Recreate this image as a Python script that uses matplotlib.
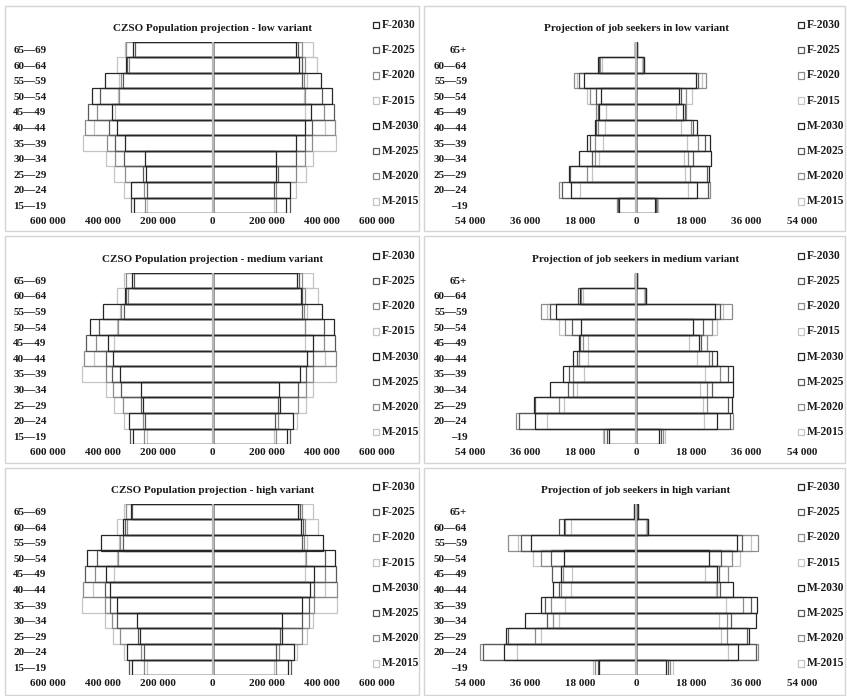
"""
Six population-pyramid panels: CZSO population projection (left column)
and projected job seekers (right column), low / medium / high variant.
Males drawn to the left, females to the right, four years overlaid as
unfilled outlines (Excel style, 100 % overlap, zero gap).
"""

import matplotlib
matplotlib.use("Agg")
import matplotlib.pyplot as plt
from matplotlib.patches import Rectangle
from matplotlib.ticker import FuncFormatter

plt.rcParams["font.family"] = ["Liberation Serif", "DejaVu Serif"]
plt.rcParams["font.weight"] = "bold"

# ---------------------------------------------------------------- data
YEARS = [2015, 2020, 2025, 2030]

POP_AGES = ["15—19", "20—24", "25—29", "30—34", "35—39", "40—44",
            "45—49", "50—54", "55—59", "60—64", "65—69"]
JOB_AGES = ["–19", "20—24", "25—29", "30—34", "35—39", "40—44",
            "45—49", "50—54", "55—59", "60—64", "65+"]

# population in thousands, rows = 2015, 2020, 2025, 2030 (bottom -> top ages)
POP_LOW_M = [
    [240, 322, 359, 387, 472, 432, 356, 344, 340, 350, 320],
    [246, 249, 320, 356, 384, 465, 423, 340, 332, 306, 314],
    [299, 240, 253, 322, 354, 377, 453, 409, 326, 311, 283],
    [285, 299, 244, 246, 320, 348, 368, 438, 392, 316, 289],
]
POP_LOW_F = [
    [226, 306, 342, 366, 449, 410, 339, 333, 345, 382, 366],
    [231, 233, 306, 337, 364, 445, 406, 337, 333, 337, 325],
    [282, 226, 238, 306, 337, 364, 443, 400, 327, 325, 312],
    [268, 284, 233, 233, 306, 337, 360, 437, 397, 317, 305],
]
POP_MED_M = [
    [240, 322, 359, 389, 475, 433, 359, 348, 338, 350, 322],
    [250, 255, 328, 362, 389, 468, 426, 343, 332, 307, 314],
    [301, 246, 259, 332, 365, 387, 460, 414, 323, 314, 287],
    [289, 306, 253, 259, 336, 362, 381, 448, 399, 320, 292],
]
POP_MED_F = [
    [226, 309, 342, 366, 449, 412, 337, 337, 343, 384, 367],
    [231, 238, 312, 342, 366, 449, 406, 339, 333, 339, 327],
    [284, 229, 238, 312, 342, 366, 447, 406, 327, 327, 315],
    [272, 293, 245, 244, 318, 345, 366, 443, 400, 321, 309],
]
POP_HIGH_M = [
    [240, 323, 362, 393, 476, 436, 359, 350, 342, 350, 322],
    [250, 259, 336, 368, 393, 472, 429, 344, 336, 311, 316],
    [304, 250, 273, 348, 375, 393, 466, 420, 326, 320, 293],
    [292, 311, 265, 275, 348, 375, 389, 456, 407, 326, 298],
]
POP_HIGH_F = [
    [226, 309, 345, 367, 453, 412, 339, 337, 343, 384, 367],
    [233, 242, 325, 351, 370, 453, 409, 342, 333, 339, 327],
    [288, 233, 248, 325, 351, 370, 449, 409, 327, 329, 318],
    [275, 296, 254, 254, 327, 354, 370, 447, 404, 323, 312],
]

# job seekers in thousands, rows = 2015, 2020, 2025, 2030
JOB_LOW_M = [
    [6.3, 18.1, 14.4, 11.9, 10.8, 10.0, 9.7, 16.0, 19.2, 11.1, 0.2],
    [6.1, 25.2, 16.0, 13.3, 13.3, 12.2, 13.0, 14.9, 20.1, 11.7, 0.2],
    [5.7, 24.1, 21.4, 14.4, 14.9, 13.0, 12.5, 13.1, 18.5, 11.9, 0.3],
    [5.4, 21.2, 21.9, 18.7, 16.0, 13.5, 11.9, 11.3, 16.8, 12.2, 0.3],
]
JOB_LOW_F = [
    [7.0, 16.9, 15.9, 15.7, 16.7, 14.8, 12.9, 18.2, 21.6, 2.0, 0.2],
    [6.7, 24.0, 17.5, 16.9, 20.3, 18.0, 16.3, 16.4, 22.9, 2.2, 0.2],
    [6.4, 23.4, 23.1, 18.6, 22.4, 18.6, 15.9, 14.8, 20.2, 2.5, 0.2],
    [6.2, 19.9, 23.8, 24.5, 24.0, 19.9, 15.4, 13.9, 19.4, 2.7, 0.3],
]
JOB_MED_M = [
    [10.8, 28.9, 23.5, 19.2, 16.8, 15.6, 15.6, 24.9, 28.8, 17.2, 0.3],
    [10.3, 38.9, 25.1, 20.5, 20.4, 18.5, 17.4, 23.2, 31.0, 17.8, 0.3],
    [9.5, 38.2, 32.7, 22.1, 21.7, 19.3, 18.2, 20.7, 28.0, 18.8, 0.4],
    [8.9, 32.7, 33.1, 28.1, 23.9, 20.4, 18.6, 17.8, 25.9, 18.2, 0.4],
]
JOB_MED_F = [
    [9.3, 22.0, 21.7, 20.8, 22.5, 20.0, 17.4, 26.2, 28.4, 2.7, 0.3],
    [8.8, 31.6, 23.0, 23.0, 27.3, 23.9, 23.0, 24.6, 31.1, 2.9, 0.3],
    [8.0, 30.6, 30.0, 24.6, 30.0, 24.6, 21.2, 21.9, 27.3, 3.1, 0.3],
    [7.5, 26.5, 31.1, 31.6, 31.6, 26.3, 20.6, 18.5, 25.7, 3.3, 0.4],
]
JOB_HIGH_M = [
    [14.0, 38.6, 30.8, 25.2, 23.0, 21.3, 20.7, 33.5, 38.3, 21.3, 0.4],
    [13.5, 50.8, 32.9, 27.0, 27.5, 24.5, 23.8, 30.8, 41.6, 23.0, 0.4],
    [12.5, 49.7, 41.8, 28.8, 29.5, 25.2, 27.3, 27.5, 37.3, 25.2, 0.5],
    [11.9, 42.9, 42.4, 36.0, 31.0, 27.0, 24.5, 23.4, 34.2, 23.4, 0.5],
]
JOB_HIGH_F = [
    [11.9, 29.9, 27.8, 27.0, 29.2, 25.9, 22.4, 33.7, 37.3, 3.4, 0.4],
    [11.0, 39.6, 29.5, 29.5, 34.9, 26.5, 29.9, 31.3, 39.6, 3.6, 0.4],
    [10.3, 38.9, 36.2, 30.8, 37.3, 27.3, 27.0, 27.8, 34.6, 3.8, 0.5],
    [9.7, 33.3, 36.9, 39.1, 39.4, 31.5, 26.5, 23.8, 32.9, 4.0, 0.5],
]

POP_TICKS = [-600000, -400000, -200000, 0, 200000, 400000, 600000]
JOB_TICKS = [-54000, -36000, -18000, 0, 18000, 36000, 54000]

TITLES = [
    ("CZSO Population projection - low variant",
     "Projection of job seekers in low variant"),
    ("CZSO Population projection - medium variant",
     "Projection of job seekers in medium variant"),
    ("CZSO Population projection - high variant",
     "Projection of job seekers in high variant"),
]

# ---------------------------------------------------------------- style
YEAR_COLORS = {2015: "#c4c4c4", 2020: "#8c8c8c", 2025: "#595959", 2030: "#262626"}
INK = "#1a1a1a"
FRAME = "#d4d4d4"
AXIS_LINE = "#b8b8b8"
FS = 8

W, H = 847, 696
PLOT_X = [(48, 377), (470, 802)]            # plot-area left/right, px
PLOT_TOP = [41.7, 272.5, 503.7]             # plot-area top, px
PLOT_H = 171.6
BOX_X = [(5, 419), (424, 845)]              # panel frames, px
BOX_Y = [(6, 231), (236, 463), (468, 695)]
LEGEND_X = [373, 798]
LEGEND_STEP = 25.2


def px_rect(x0, x1, top, height):
    return [x0 / W, 1 - (top + height) / H, (x1 - x0) / W, height / H]


def thousands(v, _pos):
    return f"{abs(v):,.0f}".replace(",", " ")


def draw_panel(fig, row, col, males, females, scale, ages, ticks, title):
    x0, x1 = PLOT_X[col]
    ax = fig.add_axes(px_rect(x0, x1, PLOT_TOP[row], PLOT_H))
    ypos = list(range(len(ages)))

    for i, year in enumerate(YEARS):
        ax.barh(ypos, [-v * scale for v in males[i]], height=1.0,
                fill=False, edgecolor=YEAR_COLORS[year], linewidth=0.9,
                zorder=2 + i)
    for i, year in enumerate(YEARS):
        ax.barh(ypos, [v * scale for v in females[i]], height=1.0,
                fill=False, edgecolor=YEAR_COLORS[year], linewidth=0.9,
                zorder=2 + i)

    ax.axvline(0, color=AXIS_LINE, linewidth=1.6, zorder=10)

    ax.set_xlim(ticks[0], ticks[-1])
    ax.set_ylim(-0.5, len(ages) - 0.5)
    ax.set_xticks(ticks)
    ax.xaxis.set_major_formatter(FuncFormatter(thousands))
    ax.set_yticks(ypos)
    ax.set_yticklabels(ages)
    ax.tick_params(axis="x", length=0, pad=2.5, labelsize=FS, labelcolor=INK)
    ax.tick_params(axis="y", length=0, pad=1 if col == 0 else 2,
                   labelsize=FS, labelcolor=INK)
    for s in ax.spines.values():
        s.set_visible(False)

    ax.text(0.5, 1 + 13.4 / PLOT_H, title, transform=ax.transAxes,
            ha="center", va="center", fontsize=FS, fontweight="bold",
            color=INK)

    # legend column, Excel order (F-2030 ... M-2015)
    entries = [("F", y) for y in YEARS[::-1]] + [("M", y) for y in YEARS[::-1]]
    for k, (sex, year) in enumerate(entries):
        yc = PLOT_TOP[row] - 16.7 + k * LEGEND_STEP
        lx = LEGEND_X[col]
        fig.add_artist(Rectangle(
            (lx / W, 1 - (yc + 3.2) / H), 6.4 / W, 6.4 / H,
            transform=fig.transFigure, facecolor="white",
            edgecolor=YEAR_COLORS[year], linewidth=0.9))
        fig.text((lx + 8.5) / W, 1 - yc / H, f"{sex}-{year}",
                 ha="left", va="center", fontsize=FS + 0.3,
                 fontweight="bold", color=INK)


def build_figure():
    fig = plt.figure(figsize=(W / 100, H / 100), dpi=100, facecolor="white")

    for r in range(3):
        for c in range(2):
            bx0, bx1 = BOX_X[c]
            by0, by1 = BOX_Y[r]
            fig.add_artist(Rectangle(
                (bx0 / W, 1 - by1 / H), (bx1 - bx0) / W, (by1 - by0) / H,
                transform=fig.transFigure, fill=False, edgecolor=FRAME,
                linewidth=1.0))

    pop = [(POP_LOW_M, POP_LOW_F), (POP_MED_M, POP_MED_F),
           (POP_HIGH_M, POP_HIGH_F)]
    job = [(JOB_LOW_M, JOB_LOW_F), (JOB_MED_M, JOB_MED_F),
           (JOB_HIGH_M, JOB_HIGH_F)]

    for r in range(3):
        draw_panel(fig, r, 0, pop[r][0], pop[r][1], 1000, POP_AGES,
                   POP_TICKS, TITLES[r][0])
        draw_panel(fig, r, 1, job[r][0], job[r][1], 1000, JOB_AGES,
                   JOB_TICKS, TITLES[r][1])
    return fig


def main():
    fig = build_figure()
    fig.savefig("out.png", dpi=100, facecolor="white")
    plt.close(fig)


if __name__ == "__main__":
    main()
